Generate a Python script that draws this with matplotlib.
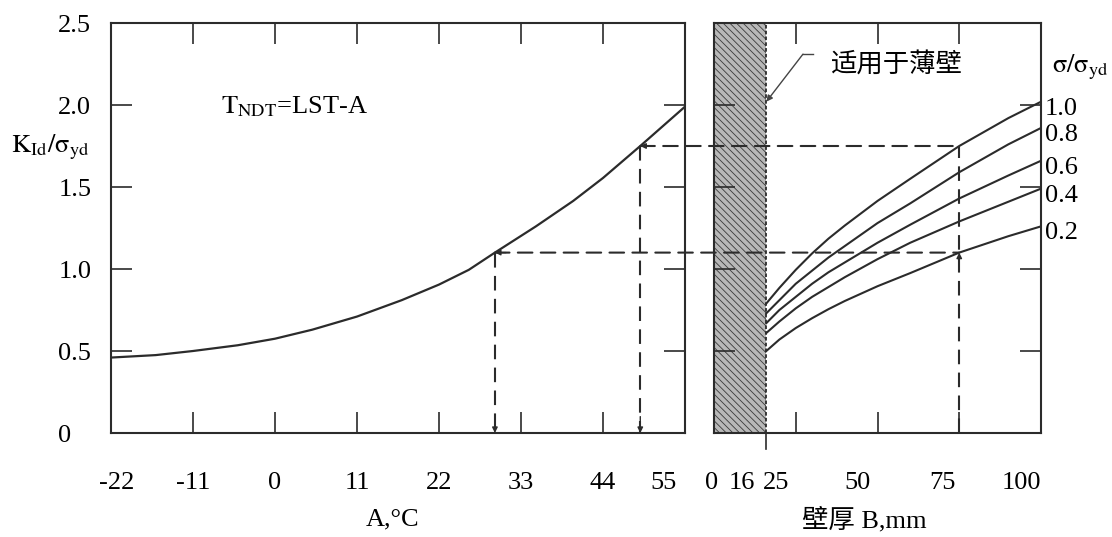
import matplotlib
matplotlib.use('Agg')
import matplotlib.pyplot as plt
from matplotlib.patches import ConnectionPatch
from matplotlib.transforms import ScaledTranslation

plt.rcParams['font.family'] = ['Liberation Serif', 'Noto Sans CJK SC']
plt.rcParams['mathtext.fontset'] = 'stix'
plt.rcParams['hatch.linewidth'] = 0.6
plt.rcParams['hatch.color'] = '#3a3a3a'

ink = '#2b2b2b'
fs = 19

# left panel: K_Id/sigma_yd against A = T - (LST - T_NDT)
A = [-22, -16, -11, -5, 0, 5, 11, 17, 22, 26, 29.5, 35, 40, 44, 49, 52, 55]
K_A = [0.46, 0.475, 0.50, 0.535, 0.575, 0.63, 0.71, 0.81, 0.905, 0.995, 1.10,
       1.26, 1.415, 1.555, 1.75, 1.87, 1.99]
A_ticks = [-11, 0, 11, 22, 33, 44]
A_labels = [-22, -11, 0, 11, 22, 33, 44, 55]

# right panel: K_Id/sigma_yd against wall thickness B for each sigma/sigma_yd
B = [16, 20, 25, 30, 35, 40, 50, 60, 75, 90, 100]
stress_ratio = ['1.0', '0.8', '0.6', '0.4', '0.2']
K_B = {
    '1.0': [0.79, 0.885, 0.995, 1.095, 1.185, 1.265, 1.415, 1.55, 1.75, 1.92, 2.02],
    '0.8': [0.73, 0.81, 0.91, 0.99, 1.07, 1.14, 1.28, 1.40, 1.59, 1.76, 1.86],
    '0.6': [0.67, 0.75, 0.83, 0.91, 0.98, 1.04, 1.16, 1.27, 1.43, 1.57, 1.66],
    '0.4': [0.61, 0.68, 0.76, 0.83, 0.89, 0.95, 1.06, 1.16, 1.29, 1.41, 1.49],
    '0.2': [0.50, 0.57, 0.64, 0.70, 0.755, 0.805, 0.895, 0.975, 1.10, 1.20, 1.26],
}
B_labels = [0, 16, 25, 50, 75, 100]
B_ticks = [25, 50, 75]
thin_wall = 16

# worked example
B_read = 75
K_low, A_low = 1.10, 29.5
K_high, A_high = 1.75, 49

y_ticks = [0.5, 1.0, 1.5, 2.0]
y_labels = [0, 0.5, 1.0, 1.5, 2.0, 2.5]

fig = plt.figure(figsize=(11.12, 5.37), dpi=100)
ax1 = fig.add_axes([111 / 1112, 104 / 537, 574 / 1112, 410 / 537])
ax2 = fig.add_axes([714 / 1112, 104 / 537, 327 / 1112, 410 / 537])

for ax in (ax1, ax2):
    for s in ax.spines.values():
        s.set_linewidth(1.5)
        s.set_color(ink)
    ax.xaxis.remove_overlapping_locs = False
    ax.yaxis.remove_overlapping_locs = False
    ax.set_ylim(0, 2.5)
    ax.set_yticks(y_ticks)
    ax.tick_params(which='major', direction='in', length=15, width=1.2, color=ink,
                   top=True, right=True, labelbottom=False, labelleft=False)

# ---- left panel
ax1.plot(A, K_A, color=ink, lw=1.6)
ax1.set_xlim(-22, 55)
ax1.set_xticks(A_ticks)
ax1.set_xticks(A_labels, [str(v) for v in A_labels], minor=True)
ax1.set_yticks(y_labels, ['0', '0.5', '1.0', '1.5', '2.0', '2.5'], minor=True)
ax1.tick_params(which='minor', length=0, labelsize=fs)
ax1.tick_params(axis='x', which='minor', pad=28)
ax1.tick_params(axis='y', which='minor', pad=38)
for lab in ax1.get_yticklabels(minor=True):
    lab.set_ha('left')
for lab, v in zip(ax1.get_xticklabels(minor=True), A_labels):
    dx = {-22: 6, 55: -22}.get(v, 0)
    lab.set_transform(lab.get_transform() + ScaledTranslation(dx / 100, 0, fig.dpi_scale_trans))

ax1.text(-7.3, 1.99, r'$\mathrm{T_{NDT}}$=LST-A', fontsize=fs, va='center', color='black')
ax1.set_ylabel(r'$\mathrm{K_{Id}/σ_{yd}}$', rotation=0, fontsize=fs, ha='left', va='center')
ax1.yaxis.set_label_coords(-0.175, 0.698)
ax1.set_xlabel('A,°C', fontsize=fs)
ax1.xaxis.set_label_coords(0.49, -0.185)

# ---- right panel
ax2.set_xlim(0, 100)
ax2.axvspan(0, thin_wall, facecolor='#b8b8b8', edgecolor='#3a3a3a', hatch='\\\\\\\\\\', lw=0)
ax2.axvline(thin_wall, color=ink, lw=1.3, ls=(0, (2, 1.2)))
for r in stress_ratio:
    ax2.plot(B, K_B[r], color=ink, lw=1.5)
    ax2.annotate(r, (B[-1], K_B[r][-1]), xytext=(3, -5), textcoords='offset points',
                 fontsize=fs, va='center', ha='left', annotation_clip=False)
ax2.text(103.4, 2.23, r'$\mathrm{σ/σ_{yd}}$', fontsize=fs, va='center', ha='left')

ax2.set_xticks(B_ticks)
ax2.set_xticks(B_labels, [str(v) for v in B_labels], minor=True)
ax2.tick_params(which='minor', length=0, labelsize=fs, pad=28)
ax2.tick_params(axis='y', which='minor', labelleft=False)
for lab, v in zip(ax2.get_xticklabels(minor=True), B_labels):
    dx = {0: -2, 16: -24, 75: -17}.get(v, -20)
    lab.set_transform(lab.get_transform() + ScaledTranslation(dx / 100, 0, fig.dpi_scale_trans))
ax2.plot([thin_wall, thin_wall], [0, -0.04], color=ink, lw=1.2,
         transform=ax2.get_xaxis_transform(), clip_on=False)
ax2.set_xlabel('壁厚 B,mm', fontsize=fs)
ax2.xaxis.set_label_coords(0.46, -0.18)

# note for thin walls
ax2.plot([30.3, 27.2], [2.31, 2.31], color='#444444', lw=1)
ax2.annotate('', xy=(thin_wall, 2.02), xytext=(27.2, 2.31),
             arrowprops=dict(arrowstyle='-|>', color='#444444', lw=1, mutation_scale=9,
                             shrinkA=0, shrinkB=0))
ax2.text(35.5, 2.25, '适用于薄壁', fontsize=fs, va='center', ha='left',
         family=['Noto Sans CJK SC'])

# ---- dashed read-off lines
dash = (0, (7, 4))
for K, Ax in ((K_low, A_low), (K_high, A_high)):
    fig.add_artist(ConnectionPatch(xyA=(Ax, K), coordsA=ax1.transData,
                                   xyB=(B_read, K), coordsB=ax2.transData,
                                   color=ink, lw=1.5, ls=dash))
    ax1.plot([Ax, Ax], [K, 0], color=ink, lw=1.5, ls=dash)
    ax1.annotate('', xy=(Ax, K), xytext=(Ax + 1.5, K),
                 arrowprops=dict(arrowstyle='-|>', color=ink, lw=1, mutation_scale=8,
                                 shrinkA=0, shrinkB=0))
    ax1.annotate('', xy=(Ax, 0), xytext=(Ax, 0.1),
                 arrowprops=dict(arrowstyle='-|>', color=ink, lw=1, mutation_scale=8,
                                 shrinkA=0, shrinkB=0))
ax2.plot([B_read, B_read], [0, K_high], color=ink, lw=1.5, ls=dash)
ax2.annotate('', xy=(B_read, K_low), xytext=(B_read, K_low - 0.1),
             arrowprops=dict(arrowstyle='-|>', color=ink, lw=1, mutation_scale=8,
                             shrinkA=0, shrinkB=0))

fig.savefig('out.png', dpi=100, facecolor='white')
